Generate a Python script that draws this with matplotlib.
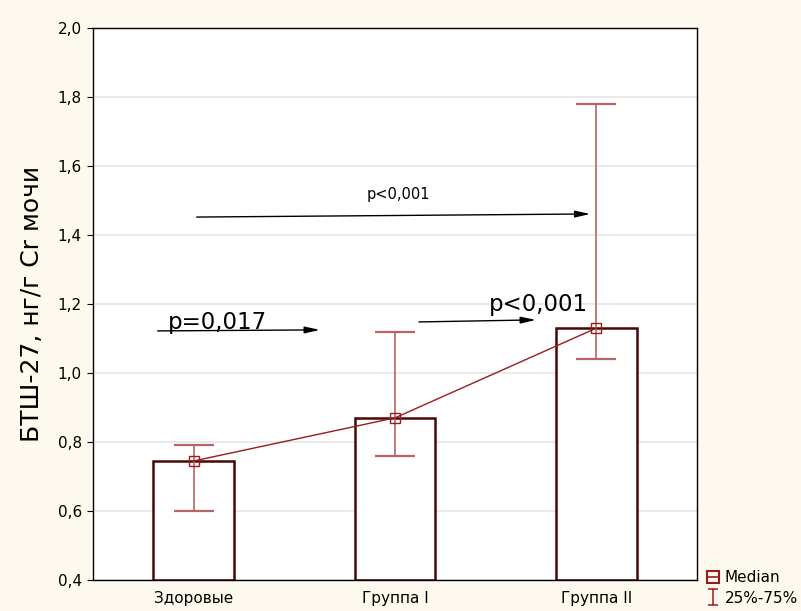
import matplotlib
matplotlib.use("Agg")
import matplotlib.pyplot as plt
from matplotlib.lines import Line2D
from matplotlib.path import Path

plt.rcParams["font.family"] = ["DejaVu Sans"]

categories = ["Здоровые", "Группа I", "Группа II"]
medians = [0.745, 0.87, 1.13]
q25 = [0.60, 0.76, 1.04]
q75 = [0.79, 1.12, 1.78]

yticks = [0.4, 0.6, 0.8, 1.0, 1.2, 1.4, 1.6, 1.8, 2.0]
ytick_labels = ["0,4", "0,6", "0,8", "1,0", "1,2", "1,4", "1,6", "1,8", "2,0"]

bg = "#FEF9EE"
dark = "#4A0505"
line_red = "#9B1B1B"
cap_red = "#A01818"
err_red = "#B86464"

fig = plt.figure(figsize=(8.01, 6.11), dpi=100, facecolor=bg)
ax = fig.add_axes([93 / 801, 1 - 580 / 611, (697 - 93) / 801, (580 - 28) / 611])
ax.set_facecolor("white")

x = list(range(len(categories)))
ax.bar(x, [m - 0.4 for m in medians], bottom=0.4, width=0.4,
       facecolor="white", edgecolor=dark, linewidth=1.8, zorder=2)

lower = [m - a for m, a in zip(medians, q25)]
upper = [b - m for m, b in zip(medians, q75)]
eb = ax.errorbar(x, medians, yerr=[lower, upper], fmt="none", ecolor=err_red,
                 elinewidth=1.2, capsize=14.5, capthick=1.6, zorder=3)
for cap in eb[1]:
    cap.set_color(cap_red)
ax.plot(x, medians, color=line_red, linewidth=1.0, marker="s", markersize=7,
        markerfacecolor="none", markeredgecolor=line_red, markeredgewidth=1.0,
        zorder=4)

ax.set_xlim(-0.5, 2.5)
ax.set_ylim(0.4, 2.0)
ax.set_yticks(yticks)
ax.set_yticklabels(ytick_labels, fontsize=11)
ax.set_xticks(x)
ax.set_xticklabels(categories, fontsize=11)
ax.tick_params(axis="x", length=0, pad=8)
ax.tick_params(axis="y", length=4, direction="out", pad=4)
ax.yaxis.grid(True, color="#E6E6E6", linewidth=1.2, zorder=0)
ax.set_axisbelow(True)
for s in ax.spines.values():
    s.set_color("black")
    s.set_linewidth(1.0)

ax.set_ylabel("БТШ-27, нг/г Cr мочи", fontsize=18, labelpad=10)

# significance arrows
arrow_kw = dict(arrowstyle="-|>,head_length=0.9,head_width=0.2", color="black",
                lw=1.0, shrinkA=0, shrinkB=0)
ax.annotate("", xy=(0.627, 1.125), xytext=(-0.179, 1.122), arrowprops=arrow_kw, zorder=5)
ax.annotate("", xy=(1.70, 1.154), xytext=(1.119, 1.148), arrowprops=arrow_kw, zorder=5)
ax.annotate("", xy=(1.97, 1.461), xytext=(0.015, 1.452), arrowprops=arrow_kw, zorder=5)

ax.text(0.12, 1.128, "p=0,017", fontsize=16.5, ha="center", va="baseline", zorder=6)
ax.text(1.71, 1.18, "p<0,001", fontsize=16.5, ha="center", va="baseline", zorder=6)
ax.text(1.015, 1.505, "p<0,001", fontsize=10.5, ha="center", va="baseline", zorder=6)

# legend symbols: boxed median and an I-shaped quartile range
i_shape = Path([(-0.28, -0.5), (0.28, -0.5), (0, -0.5), (0, 0.5),
                (-0.28, 0.5), (0.28, 0.5)],
               [Path.MOVETO, Path.LINETO, Path.MOVETO, Path.LINETO,
                Path.MOVETO, Path.LINETO])
median_handle = Line2D([0], [0], color=line_red, linewidth=1.2, marker="s",
                       markersize=9, markerfacecolor="none",
                       markeredgecolor=line_red, markeredgewidth=1.5)
range_handle = Line2D([0], [0], linestyle="none", marker=i_shape,
                      markersize=12, markerfacecolor="none",
                      markeredgecolor=cap_red, markeredgewidth=1.1)
fig.legend([median_handle, range_handle], ["Median", "25%-75%"],
           loc="lower left", bbox_to_anchor=(700 / 801, -3 / 611), frameon=False,
           fontsize=11, handlelength=0.55, handletextpad=0.5,
           labelspacing=0.35, borderaxespad=0.15)

fig.savefig("out.png", dpi=100, facecolor=bg)
